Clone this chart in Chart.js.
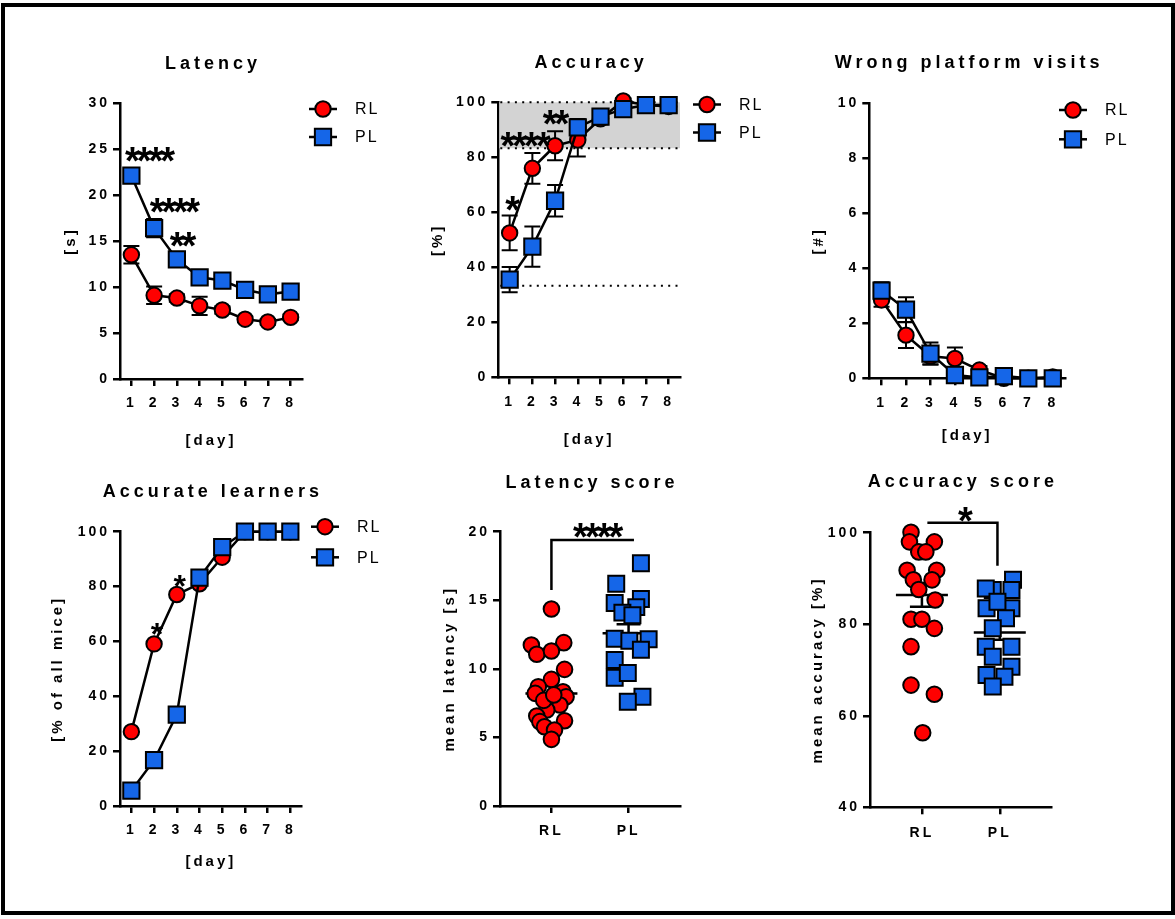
<!DOCTYPE html>
<html>
<head>
<meta charset="utf-8">
<script src="https://cdn.jsdelivr.net/npm/chart.js@4.4.1/dist/chart.umd.min.js"></script>
<style>
  html, body { margin: 0; padding: 0; background: #fff; }
  #page { position: relative; width: 1175px; height: 919px; overflow: hidden; background: #fff; }
  #frame { position: absolute; left: 1px; top: 3px; width: 1166px; height: 904px; border: 4px solid #000; }
  canvas { position: absolute; left: 0; top: 0; }
</style>
</head>
<body>
<div id="page">
  <div id="frame"></div>
  <canvas id="latency" width="1175" height="919"></canvas>
  <canvas id="accuracy" width="1175" height="919"></canvas>
  <canvas id="wrong" width="1175" height="919"></canvas>
  <canvas id="learners" width="1175" height="919"></canvas>
  <canvas id="latScore" width="1175" height="919"></canvas>
  <canvas id="accScore" width="1175" height="919"></canvas>
</div>
<script>
// ---- data ----
const days = ['1', '2', '3', '4', '5', '6', '7', '8'];
const groups = ['RL', 'PL'];

const latencyRL = [13.5, 9.1, 8.8, 7.95, 7.5, 6.5, 6.2, 6.7];
const latencyRLsem = [0.95, 0.95, 0.4, 1.0, 0.4, 0.3, 0.3, 0.3];
const latencyPL = [22.1, 16.4, 13.0, 11.05, 10.7, 9.7, 9.2, 9.5];
const latencyPLsem = [0.5, 1.0, 0.5, 0.5, 0.4, 0.4, 0.4, 0.4];
const latencyStars = [{x: 0.69, y: 24.6, t: '****'}, {x: 1.78, y: 19.1, t: '****'}, {x: 2.14, y: 15.4, t: '**'}];

const accuracyRL = [52.5, 76, 84.2, 86.3, 94, 100.5, 99, 98.5];
const accuracyRLsem = [6.3, 5.6, 5.3, 6.0, 2, 1, 1, 1];
const accuracyPL = [35.5, 47.5, 64.2, 90.9, 94.8, 97.5, 99, 99];
const accuracyPLsem = [4.6, 7.3, 5.7, 3, 2, 1.5, 1, 1];
const accuracyBand = [83.3, 100];
const chanceLevel = 33.3;
const accuracyStars = [{x: 0, y: 63.9, t: '*'}, {x: 0.57, y: 87.4, t: '****'}, {x: 1.91, y: 95.4, t: '**'}];

const wrongRL = [2.85, 1.57, 0.8, 0.72, 0.3, 0.0, 0.0, 0.05];
const wrongRLsem = [0.25, 0.47, 0.3, 0.4, 0.15, 0.05, 0.05, 0.05];
const wrongPL = [3.19, 2.5, 0.9, 0.12, 0.03, 0.08, 0.0, 0.0];
const wrongPLsem = [0.3, 0.45, 0.4, 0.15, 0.05, 0.1, 0.05, 0.05];

const learnersRL = [27.1, 59.1, 77.1, 81, 90.7, 100, 100, 100];
const learnersPL = [5.6, 16.7, 33.3, 83.3, 94.4, 100, 100, 100];
const learnerStars = [{x: 1, y: 65.4, t: '*'}, {x: 2, y: 83, t: '*'}];

const latScoreRL = [14.36, 11.74, 11.91, 11.06, 11.3, 9.96, 9.23, 8.7, 8.21, 8.33, 7.97, 7.36, 7.0, 6.56, 6.15, 6.22, 5.78, 5.54, 4.86, 7.7, 8.1];
const latScoreRLjit = [0, -0.26, 0.16, -0.19, 0, 0.17, 0, -0.17, -0.21, 0.15, 0.19, 0.11, -0.06, -0.19, -0.15, 0.17, -0.09, 0.04, 0, -0.1, 0.03];
const latScorePL = [17.7, 16.2, 15.1, 14.8, 14.5, 14.1, 13.9, 12.2, 12.05, 12.15, 11.4, 10.65, 9.35, 9.7, 7.97, 7.6];
const latScorePLjit = [0.16, -0.16, 0.16, -0.18, 0.1, -0.08, 0.05, -0.18, 0.01, 0.26, 0.16, -0.18, -0.18, -0.01, 0.18, -0.01];
const latScoreMean = [8.2, 12.6];
const latScoreSem = [0.55, 0.65];
const latScoreBracket = [[0, 15.75], [0, 19.4], [1.07, 19.4]];
const latScoreStars = [{x: 0.567, y: 20.25, t: '****'}];

const accScoreRL = [100.1, 98.0, 98.0, 95.8, 95.8, 91.8, 91.8, 89.7, 89.7, 87.6, 85.3, 81.1, 81.1, 79.1, 75.1, 66.7, 64.7, 56.3];
const accScoreRLjit = [-0.14, -0.16, 0.16, -0.04, 0.05, -0.19, 0.19, -0.11, 0.13, -0.04, 0.17, -0.14, 0, 0.16, -0.14, -0.14, 0.16, 0.01];
const accScorePL = [89.7, 87.5, 87.8, 87.5, 83.5, 83.5, 84.9, 81.3, 79.1, 75.1, 75.1, 72.9, 70.7, 68.9, 68.5, 66.4];
const accScorePLjit = [0.17, -0.09, -0.18, 0.15, -0.17, 0.15, -0.03, 0.08, -0.09, -0.18, 0.15, -0.09, 0.15, -0.17, 0.06, -0.09];
const accScoreMean = [86.4, 78.2];
const accScoreSem = [2.6, 1.6];
const accScoreBracket = [[0.07, 102.2], [0.97, 102.2], [0.97, 92.8]];
const accScoreStars = [{x: 0.52, y: 104.4, t: '*'}];

// ---- look ----
const RED = '#ff0000';
const BLUE = '#1566e8';
const FAMILY = "'Liberation Sans', Arial, sans-serif";
const TITLE_SIZE = 18, AXIS_SIZE = 15, TICK_SIZE = 14;
const W = 1175, H = 919;

// works out padding so that the plot area lands where it is in the figure
function frame(ca, titleY, yTitleX, xTitleY) {
  const aLH = AXIS_SIZE * 1.2;
  const yLeft = yTitleX - aLH / 2;
  const xH = xTitleY ? xTitleY + aLH / 2 - ca.b : 45;
  return {
    padding: {left: yLeft, top: ca.t, right: W - ca.r, bottom: H - ca.b - xH},
    titleY: titleY,
    yWidth: ca.l - yLeft,
    xHeight: xH
  };
}

const overlay = {
  id: 'overlay',
  beforeDraw(chart) {
    chart.ctx.letterSpacing = '3px';
  },
  beforeDatasetsDraw(chart, args, o) {
    const {ctx, chartArea: ca} = chart;
    const x = chart.scales.x, y = chart.scales.y;
    ctx.save();
    ctx.letterSpacing = '0px';
    if (o.band) {
      const yt = y.getPixelForValue(o.band[1]), yb = y.getPixelForValue(o.band[0]);
      ctx.fillStyle = '#d3d3d3';
      ctx.fillRect(ca.left + 1, yt, ca.right - ca.left - 1, yb - yt);
      ctx.strokeStyle = '#000';
      ctx.lineWidth = 2;
      ctx.setLineDash([2, 5.3]);
      o.band.concat([o.chance]).forEach(v => {
        const py = y.getPixelForValue(v);
        ctx.beginPath();
        ctx.moveTo(ca.left + 2, py);
        ctx.lineTo(ca.right, py);
        ctx.stroke();
      });
      ctx.setLineDash([]);
    }
    ctx.strokeStyle = '#000';
    ctx.lineWidth = 2;
    (o.errors || []).forEach((sem, di) => {
      chart.data.datasets[di].data.forEach((v, i) => {
        const px = x.getPixelForValue(i);
        const y1 = y.getPixelForValue(v - sem[i]), y2 = y.getPixelForValue(v + sem[i]);
        ctx.beginPath();
        ctx.moveTo(px, y1); ctx.lineTo(px, y2);
        ctx.moveTo(px - 8, y1); ctx.lineTo(px + 8, y1);
        ctx.moveTo(px - 8, y2); ctx.lineTo(px + 8, y2);
        ctx.stroke();
      });
    });
    if (o.means) {
      ctx.lineWidth = 2.5;
      o.means.forEach((m, gi) => {
        const px = x.getPixelForValue(gi);
        const pm = y.getPixelForValue(m);
        const p1 = y.getPixelForValue(m - o.sems[gi]), p2 = y.getPixelForValue(m + o.sems[gi]);
        ctx.beginPath();
        ctx.moveTo(px - 26, pm); ctx.lineTo(px + 26, pm);
        ctx.moveTo(px, p1); ctx.lineTo(px, p2);
        ctx.moveTo(px - 12, p1); ctx.lineTo(px + 12, p1);
        ctx.moveTo(px - 12, p2); ctx.lineTo(px + 12, p2);
        ctx.stroke();
      });
    }
    ctx.restore();
  },
  afterDatasetsDraw(chart, args, o) {
    const {ctx, chartArea: ca} = chart;
    const x = chart.scales.x, y = chart.scales.y;
    ctx.save();
    ctx.strokeStyle = '#000';
    ctx.fillStyle = '#000';
    // panel title, centred over the plot area
    ctx.font = 'bold ' + TITLE_SIZE + 'px ' + FAMILY;
    ctx.letterSpacing = '4px';
    ctx.textAlign = 'center';
    ctx.textBaseline = 'middle';
    ctx.fillText(o.title, (ca.left + ca.right) / 2 + 2, o.titleY);
    if (o.bracket) {
      ctx.lineWidth = 2.5;
      ctx.beginPath();
      o.bracket.forEach((p, i) => {
        const px = x.getPixelForValue(p[0]), py = y.getPixelForValue(p[1]);
        if (i === 0) ctx.moveTo(px, py); else ctx.lineTo(px, py);
      });
      ctx.stroke();
    }
    if (o.stars) {
      const size = o.starSize || 38;
      ctx.font = 'bold ' + size + 'px ' + FAMILY;
      ctx.letterSpacing = '-3px';
      ctx.textAlign = 'center';
      ctx.textBaseline = 'alphabetic';
      o.stars.forEach(s => {
        ctx.fillText(s.t, x.getPixelForValue(s.x) + 1.5, y.getPixelForValue(s.y) + 0.574 * size);
      });
    }
    if (o.legend) {
      const L = o.legend;
      ctx.font = '16px ' + FAMILY;
      ctx.letterSpacing = '2px';
      ctx.textAlign = 'left';
      ctx.textBaseline = 'middle';
      chart.data.datasets.forEach((ds, i) => {
        const cy = L.y + i * L.dy;
        ctx.lineWidth = 2.5;
        ctx.strokeStyle = '#000';
        ctx.beginPath();
        ctx.moveTo(L.x - 14, cy); ctx.lineTo(L.x + 14, cy);
        ctx.stroke();
        ctx.lineWidth = 2;
        ctx.fillStyle = ds.pointBackgroundColor;
        ctx.beginPath();
        if (ds.pointStyle === 'rect') {
          const h = ds.pointRadius * Math.SQRT1_2;
          ctx.rect(L.x - h, cy - h, 2 * h, 2 * h);
        } else {
          ctx.arc(L.x, cy, ds.pointRadius, 0, Math.PI * 2);
        }
        ctx.fill();
        ctx.stroke();
        ctx.fillStyle = '#000';
        ctx.fillText(ds.label, L.x + 32, cy + 1);
      });
    }
    ctx.restore();
  }
};

const common = {
  borderColor: '#000', borderWidth: 2.5, pointBorderColor: '#000', pointBorderWidth: 2,
  clip: false, tension: 0
};

function lineSets(rl, pl) {
  return [
    Object.assign({label: 'RL', data: rl, pointStyle: 'circle', pointRadius: 7.7, pointHoverRadius: 7.7,
      pointBackgroundColor: RED, order: 1}, common),
    Object.assign({label: 'PL', data: pl, pointStyle: 'rect', pointRadius: 11.5, pointHoverRadius: 11.5,
      pointBackgroundColor: BLUE, order: 0}, common)
  ];
}

function scatterSets(rl, rlJit, pl, plJit) {
  return [
    Object.assign({label: 'RL', data: rl.map((v, i) => ({x: rlJit[i], y: v})), pointStyle: 'circle',
      pointRadius: 7.8, pointHoverRadius: 7.8, pointBackgroundColor: RED, order: 1}, common),
    Object.assign({label: 'PL', data: pl.map((v, i) => ({x: 1 + plJit[i], y: v})), pointStyle: 'rect',
      pointRadius: 11.3, pointHoverRadius: 11.3, pointBackgroundColor: BLUE, order: 0}, common)
  ];
}

function axis(fitKey, fitVal, padding, titleText, scale, tickExtra) {
  return Object.assign({
    grid: {display: true, drawOnChartArea: false, drawTicks: true, tickLength: 7, color: '#000',
      lineWidth: 2.5, offset: false},
    border: {display: true, color: '#000', width: 2.5},
    ticks: Object.assign({color: '#000', font: {family: FAMILY, size: TICK_SIZE, weight: 'bold'},
      padding: padding, maxRotation: 0, autoSkip: false}, tickExtra || {}),
    title: {display: !!titleText, text: titleText, color: '#000', padding: 0,
      font: {family: FAMILY, size: AXIS_SIZE, weight: 'bold'}},
    afterFit: s => { s[fitKey] = fitVal; }
  }, scale);
}

const dayAxis = geo => axis('height', geo.xHeight, 9, '[day]', {type: 'category', offset: true});
const groupAxis = geo => axis('height', geo.xHeight, 10, '', {
  type: 'linear', min: -2 / 3, max: 5 / 3,
  afterBuildTicks: s => { s.ticks = groups.map((g, i) => ({value: i})); }
}, {callback: v => groups[v]});
const valueAxis = (geo, min, max, step, t) => axis('width', geo.yWidth, 3, t,
  {type: 'linear', min: min, max: max}, {stepSize: step});

function panel(id, type, title, geo, datasets, xAxis, yAxis, extra) {
  new Chart(document.getElementById(id), {
    type: type,
    data: {labels: type === 'line' ? days : undefined, datasets: datasets},
    options: {
      responsive: false,
      devicePixelRatio: 1,
      animation: false,
      events: [],
      layout: {padding: geo.padding},
      plugins: {
        legend: {display: false},
        tooltip: {enabled: false},
        title: {display: false},
        overlay: Object.assign({title: title, titleY: geo.titleY}, extra)
      },
      scales: {x: xAxis, y: yAxis}
    },
    plugins: [overlay]
  });
}

let g;

g = frame({l: 120, r: 302, t: 103, b: 379}, 64, 70.5, 441);
panel('latency', 'line', 'Latency', g, lineSets(latencyRL, latencyPL),
  dayAxis(g), valueAxis(g, 0, 30, 5, '[s]'),
  {errors: [latencyRLsem, latencyPLsem], stars: latencyStars, legend: {x: 323, y: 109, dy: 28}});

g = frame({l: 498.3, r: 680, t: 102.3, b: 377.3}, 63, 438, 440);
panel('accuracy', 'line', 'Accuracy', g, lineSets(accuracyRL, accuracyPL),
  dayAxis(g), valueAxis(g, 0, 100, 20, '[%]'),
  {errors: [accuracyRLsem, accuracyPLsem], band: accuracyBand, chance: chanceLevel,
   stars: accuracyStars, legend: {x: 707, y: 104.5, dy: 28}});

g = frame({l: 869.3, r: 1065, t: 103.3, b: 378.3}, 63.3, 819, 435.5);
panel('wrong', 'line', 'Wrong platform visits', g, lineSets(wrongRL, wrongPL),
  dayAxis(g), valueAxis(g, 0, 10, 2, '[#]'),
  {errors: [wrongRLsem, wrongPLsem], legend: {x: 1073, y: 110, dy: 29.3}});

g = frame({l: 120, r: 301.7, t: 531.7, b: 806}, 491.7, 58.3, 861.7);
panel('learners', 'line', 'Accurate learners', g, lineSets(learnersRL, learnersPL),
  dayAxis(g), valueAxis(g, 0, 100, 20, '[% of all mice]'),
  {stars: learnerStars, starSize: 32, legend: {x: 325, y: 526.7, dy: 30.6}});

g = frame({l: 500, r: 680, t: 531.7, b: 806}, 482.7, 450, 0);
panel('latScore', 'scatter', 'Latency score', g,
  scatterSets(latScoreRL, latScoreRLjit, latScorePL, latScorePLjit),
  groupAxis(g), valueAxis(g, 0, 20, 5, 'mean latency [s]'),
  {means: latScoreMean, sems: latScoreSem, bracket: latScoreBracket, stars: latScoreStars});

g = frame({l: 870, r: 1051.7, t: 532.7, b: 807.3}, 481.7, 818, 0);
panel('accScore', 'scatter', 'Accuracy score', g,
  scatterSets(accScoreRL, accScoreRLjit, accScorePL, accScorePLjit),
  groupAxis(g), valueAxis(g, 40, 100, 20, 'mean accuracy [%]'),
  {means: accScoreMean, sems: accScoreSem, bracket: accScoreBracket, stars: accScoreStars});
</script>
</body>
</html>
